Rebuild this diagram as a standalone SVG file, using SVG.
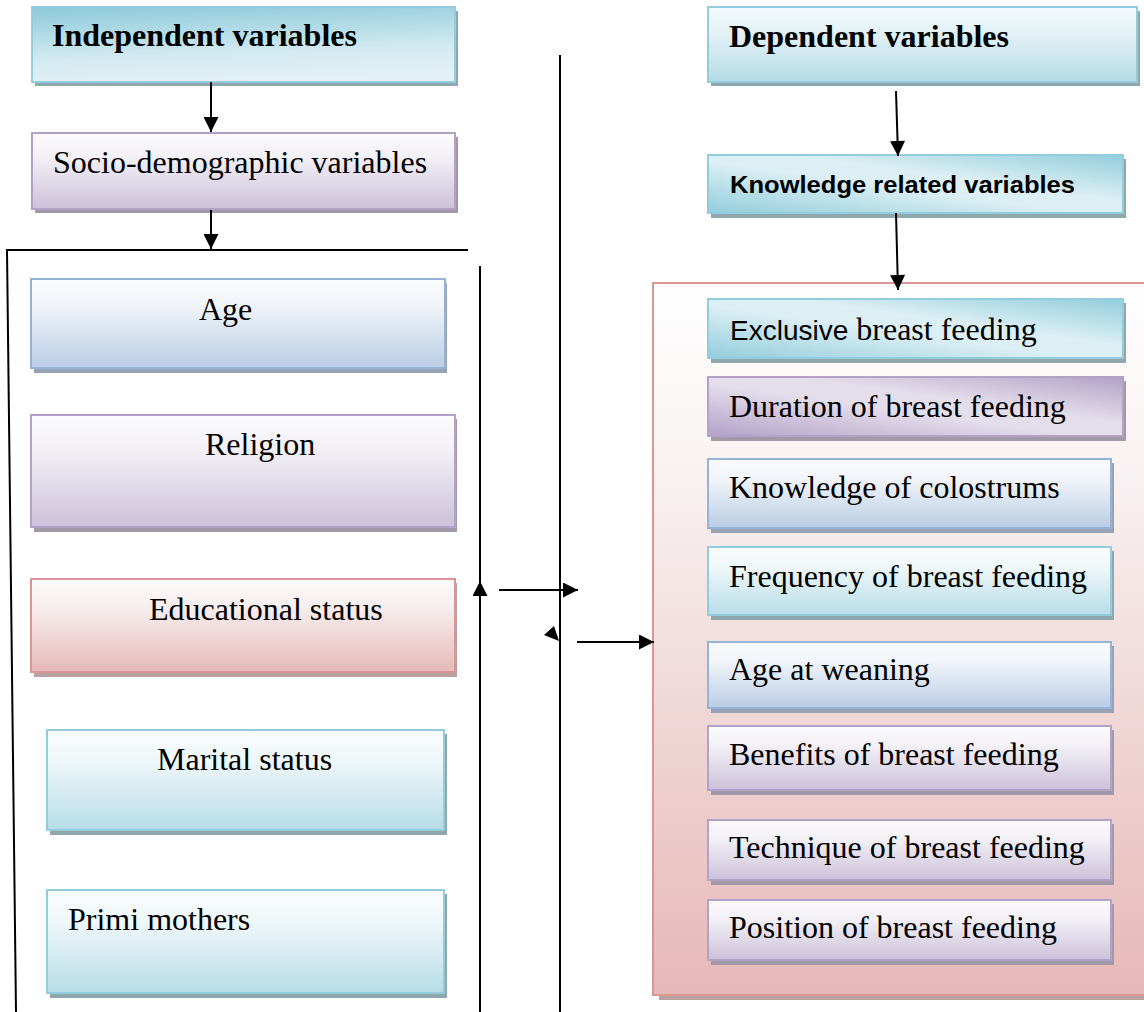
<svg xmlns="http://www.w3.org/2000/svg" width="1144" height="1012" viewBox="0 0 1144 1012">
  <defs>
    <!-- vertical fades: light top to tinted bottom -->
    <linearGradient id="gBlue" x1="0" y1="0" x2="0" y2="1">
      <stop offset="0" stop-color="#fafbfd"/>
      <stop offset="0.3" stop-color="#f1f4f9"/>
      <stop offset="1" stop-color="#b9cde5"/>
    </linearGradient>
    <linearGradient id="gPurple" x1="0" y1="0" x2="0" y2="1">
      <stop offset="0" stop-color="#fbfafc"/>
      <stop offset="0.3" stop-color="#f3f1f6"/>
      <stop offset="1" stop-color="#ccc1da"/>
    </linearGradient>
    <linearGradient id="gTeal" x1="0" y1="0" x2="0" y2="1">
      <stop offset="0" stop-color="#fafcfd"/>
      <stop offset="0.3" stop-color="#eff7f9"/>
      <stop offset="1" stop-color="#b7dde8"/>
    </linearGradient>
    <linearGradient id="gPink" x1="0" y1="0" x2="0" y2="1">
      <stop offset="0" stop-color="#fdfbfb"/>
      <stop offset="0.3" stop-color="#f7eeee"/>
      <stop offset="1" stop-color="#e6b9b8"/>
    </linearGradient>
    <linearGradient id="gPanel" x1="0" y1="0" x2="0" y2="1">
      <stop offset="0" stop-color="#ffffff"/>
      <stop offset="0.25" stop-color="#f9f3f3"/>
      <stop offset="1" stop-color="#e6b8b7"/>
    </linearGradient>
    <!-- title fades -->
    <linearGradient id="gTealTop" x1="0.2" y1="0" x2="0.4" y2="1">
      <stop offset="0" stop-color="#8fcbdb"/>
      <stop offset="0.65" stop-color="#d3eaf1"/>
      <stop offset="1" stop-color="#e2f1f5"/>
    </linearGradient>
    <linearGradient id="gTealBottom" x1="0" y1="0" x2="0" y2="1">
      <stop offset="0" stop-color="#f3f9fb"/>
      <stop offset="0.3" stop-color="#e6f3f7"/>
      <stop offset="1" stop-color="#b5dbe6"/>
    </linearGradient>
    <!-- diagonal sheen -->
    <linearGradient id="gTealDiag" x1="0" y1="1" x2="1" y2="0">
      <stop offset="0" stop-color="#92cddc"/>
      <stop offset="0.45" stop-color="#dceff4"/>
      <stop offset="0.6" stop-color="#dceff4"/>
      <stop offset="1" stop-color="#92cddc"/>
    </linearGradient>
    <linearGradient id="gPurpleDiag" x1="0" y1="1" x2="1" y2="0">
      <stop offset="0" stop-color="#b2a1c7"/>
      <stop offset="0.45" stop-color="#e4deeb"/>
      <stop offset="0.6" stop-color="#e4deeb"/>
      <stop offset="1" stop-color="#b2a1c7"/>
    </linearGradient>
    <marker id="arrow" viewBox="0 0 10 10" refX="10" refY="5" markerWidth="8.5" markerHeight="7.5" markerUnits="strokeWidth" orient="auto">
      <path d="M0,0 L10,5 L0,10 z" fill="#000"/>
    </marker>
  </defs>
  <style>
    .serif { font-family: "Liberation Serif", "Times New Roman", serif; font-size: 32px; fill: #000; }
    .bold { font-weight: bold; }
    .sans { font-family: "Liberation Sans", Arial, sans-serif; }
    .bTeal { stroke: #93cddd; stroke-width: 2; }
    .bBlue { stroke: #95b3d7; stroke-width: 2; }
    .bPurple { stroke: #b3a2c7; stroke-width: 2; }
    .bPink { stroke: #d99694; stroke-width: 2; }
    .sTeal { fill: #8fa8ad; }
    .sBlue { fill: #97a3b5; }
    .sPurple { fill: #a199a8; }
    .sPink { fill: #b9a1a1; }
    .line { stroke: #000; stroke-width: 2; fill: none; }
  </style>
  <rect width="1144" height="1012" fill="#fff"/>

  <!-- left column -->
  <g id="independent-variables">
    <rect class="sTeal" x="35" y="11" width="423" height="75"/>
    <rect class="bTeal" x="32" y="7" width="423" height="75" fill="url(#gTealTop)"/>
    <text class="serif bold" x="52" y="46">Independent variables</text>
  </g>
  <g id="socio-demographic">
    <rect class="sPurple" x="35" y="137" width="423" height="76"/>
    <rect class="bPurple" x="32" y="133" width="423" height="76" fill="url(#gPurple)"/>
    <text class="serif" x="53" y="173">Socio-demographic variables</text>
  </g>
  <g id="age">
    <rect class="sBlue" x="34" y="283" width="413" height="90"/>
    <rect class="bBlue" x="31" y="279" width="414" height="89" fill="url(#gBlue)"/>
    <text class="serif" x="199" y="320">Age</text>
  </g>
  <g id="religion">
    <rect class="sPurple" x="34" y="419" width="423" height="113"/>
    <rect class="bPurple" x="31" y="415" width="424" height="112" fill="url(#gPurple)"/>
    <text class="serif" x="205" y="455">Religion</text>
  </g>
  <g id="educational-status">
    <rect class="sPink" x="34" y="583" width="423" height="94"/>
    <rect class="bPink" x="31" y="579" width="424" height="93" fill="url(#gPink)"/>
    <text class="serif" x="149" y="620">Educational status</text>
  </g>
  <g id="marital-status">
    <rect class="sTeal" x="50" y="734" width="397" height="101"/>
    <rect class="bTeal" x="47" y="730" width="397" height="100" fill="url(#gTeal)"/>
    <text class="serif" x="157" y="770">Marital status</text>
  </g>
  <g id="primi-mothers">
    <rect class="sTeal" x="50" y="894" width="397" height="104"/>
    <rect class="bTeal" x="47" y="890" width="397" height="103" fill="url(#gTeal)"/>
    <text class="serif" x="68" y="930">Primi mothers</text>
  </g>

  <!-- right column -->
  <g id="dependent-variables">
    <rect class="sTeal" x="711" y="11" width="429" height="75"/>
    <rect class="bTeal" x="708" y="7" width="429" height="75" fill="url(#gTealBottom)"/>
    <text class="serif bold" x="729" y="47">Dependent variables</text>
  </g>
  <g id="knowledge-related-variables">
    <rect class="sTeal" x="711" y="159" width="415" height="59"/>
    <rect class="bTeal" x="708" y="155" width="415" height="58" fill="url(#gTealDiag)"/>
    <text class="sans bold" x="730" y="193" font-size="24" textLength="345" lengthAdjust="spacingAndGlyphs">Knowledge related variables</text>
  </g>
  <g id="knowledge-panel">
    <rect class="sPink" x="659" y="289" width="500" height="711"/>
    <rect class="bPink" x="653" y="283" width="500" height="712" fill="url(#gPanel)"/>
  </g>
  <g id="exclusive-breast-feeding">
    <rect class="sTeal" x="711" y="303" width="415" height="60"/>
    <rect class="bTeal" x="708" y="299" width="415" height="59" fill="url(#gTealDiag)"/>
    <text class="serif" x="730" y="340"><tspan class="sans" font-size="28">Exclusive</tspan> breast feeding</text>
  </g>
  <g id="duration-of-breast-feeding">
    <rect class="sPurple" x="711" y="381" width="415" height="60"/>
    <rect class="bPurple" x="708" y="377" width="415" height="59" fill="url(#gPurpleDiag)"/>
    <text class="serif" x="729" y="417">Duration of breast feeding</text>
  </g>
  <g id="knowledge-of-colostrums">
    <rect class="sBlue" x="711" y="463" width="403" height="70"/>
    <rect class="bBlue" x="708" y="459" width="403" height="69" fill="url(#gBlue)"/>
    <text class="serif" x="729" y="498">Knowledge of colostrums</text>
  </g>
  <g id="frequency-of-breast-feeding">
    <rect class="sTeal" x="711" y="551" width="403" height="69"/>
    <rect class="bTeal" x="708" y="547" width="403" height="68" fill="url(#gTeal)"/>
    <text class="serif" x="729" y="587">Frequency of breast feeding</text>
  </g>
  <g id="age-at-weaning">
    <rect class="sBlue" x="711" y="646" width="403" height="67"/>
    <rect class="bBlue" x="708" y="642" width="403" height="66" fill="url(#gBlue)"/>
    <text class="serif" x="729" y="680">Age at weaning</text>
  </g>
  <g id="benefits-of-breast-feeding">
    <rect class="sPurple" x="711" y="730" width="403" height="65"/>
    <rect class="bPurple" x="708" y="726" width="403" height="64" fill="url(#gPurple)"/>
    <text class="serif" x="729" y="765">Benefits of breast feeding</text>
  </g>
  <g id="technique-of-breast-feeding">
    <rect class="sPurple" x="711" y="824" width="403" height="61"/>
    <rect class="bPurple" x="708" y="820" width="403" height="60" fill="url(#gPurple)"/>
    <text class="serif" x="729" y="858">Technique of breast feeding</text>
  </g>
  <g id="position-of-breast-feeding">
    <rect class="sPurple" x="711" y="904" width="403" height="61"/>
    <rect class="bPurple" x="708" y="900" width="403" height="60" fill="url(#gPurple)"/>
    <text class="serif" x="729" y="938">Position of breast feeding</text>
  </g>

  <!-- connectors -->
  <g id="connectors">
    <line class="line" x1="211" y1="82" x2="211" y2="132" marker-end="url(#arrow)"/>
    <line class="line" x1="211" y1="210" x2="211" y2="249" marker-end="url(#arrow)"/>
    <!-- bracket round the socio-demographic list -->
    <polyline class="line" points="468,250 7,250 16,1012"/>
    <line class="line" x1="480" y1="1012" x2="480" y2="266"/>
    <line class="line" x1="480" y1="600" x2="480" y2="581" marker-end="url(#arrow)"/>
    <line class="line" x1="560" y1="55" x2="560" y2="1012"/>
    <line class="line" x1="499" y1="590" x2="578" y2="590" marker-end="url(#arrow)"/>
    <polygon points="544,635 554,626 559,641" fill="#000"/>
    <line class="line" x1="577" y1="642" x2="654" y2="642" marker-end="url(#arrow)"/>
    <line class="line" x1="896" y1="91" x2="898" y2="156" marker-end="url(#arrow)"/>
    <line class="line" x1="896" y1="213" x2="898" y2="290" marker-end="url(#arrow)"/>
  </g>
</svg>
